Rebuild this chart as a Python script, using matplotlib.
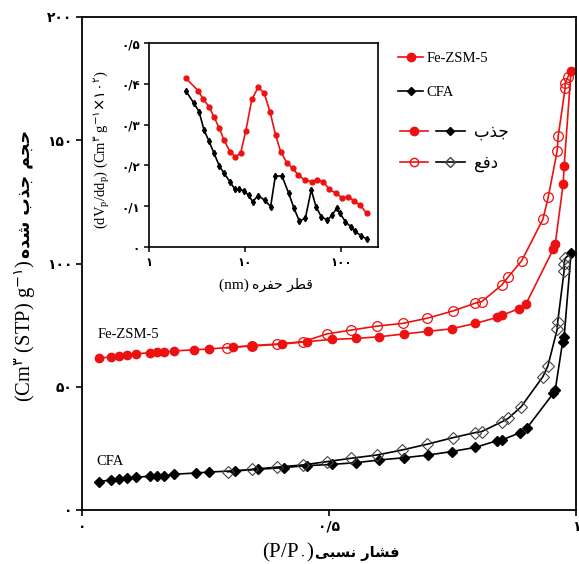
import matplotlib
matplotlib.use("Agg")
import matplotlib.pyplot as plt
import numpy as np
from matplotlib.lines import Line2D
from matplotlib.legend_handler import HandlerTuple

plt.rcParams["mathtext.fontset"] = "custom"
plt.rcParams["mathtext.rm"] = "Liberation Serif"
plt.rcParams["mathtext.it"] = "Liberation Serif:italic"
plt.rcParams["mathtext.sf"] = "DejaVu Sans"

# --- isotherm data (P/P0, adsorbed volume) ---
fe_ads_p = [0.034, 0.059, 0.075, 0.091, 0.109, 0.138, 0.152, 0.166, 0.186, 0.227,
            0.257, 0.306, 0.344, 0.405, 0.455, 0.506, 0.555, 0.602, 0.652, 0.701,
            0.748, 0.796, 0.840, 0.850, 0.885, 0.899, 0.954, 0.958, 0.974, 0.976, 0.990]
fe_ads_v = [61.5, 62.2, 62.6, 62.9, 63.4, 63.8, 64.0, 64.1, 64.5, 65.0,
            65.3, 66.1, 66.5, 67.3, 68.3, 69.2, 69.6, 70.3, 71.4, 72.5,
            73.5, 75.7, 78.1, 79.0, 81.7, 83.7, 105.8, 107.9, 132.2, 139.5, 178.2]
fe_des_p = [0.984, 0.978, 0.978, 0.964, 0.962, 0.944, 0.933, 0.890, 0.863, 0.850,
            0.809, 0.796, 0.750, 0.699, 0.649, 0.597, 0.545, 0.495, 0.448, 0.394,
            0.344, 0.293]
fe_des_v = [175.8, 173.1, 171.1, 151.7, 145.8, 127.1, 117.9, 101.1, 94.6, 91.3,
            84.5, 83.9, 80.7, 77.8, 75.7, 74.6, 73.0, 71.4, 68.3, 67.3,
            66.7, 65.8]

cfa_ads_p = [0.034, 0.059, 0.075, 0.091, 0.110, 0.137, 0.152, 0.165, 0.186, 0.230,
             0.257, 0.310, 0.357, 0.408, 0.455, 0.506, 0.555, 0.602, 0.652, 0.701,
             0.748, 0.796, 0.840, 0.850, 0.887, 0.900, 0.954, 0.958, 0.973, 0.976, 0.990]
cfa_ads_v = [11.5, 12.2, 12.6, 12.9, 13.3, 13.7, 13.8, 13.9, 14.5, 15.0,
             15.4, 15.9, 16.5, 17.2, 18.0, 18.5, 19.2, 20.3, 21.2, 22.3,
             23.7, 25.4, 28.1, 28.4, 31.4, 33.1, 47.3, 48.7, 68.3, 70.3, 104.3]
cfa_des_p = [0.978, 0.976, 0.976, 0.963, 0.962, 0.943, 0.933, 0.889, 0.863, 0.850,
             0.809, 0.796, 0.750, 0.699, 0.647, 0.597, 0.545, 0.495, 0.448, 0.395,
             0.345, 0.295]
cfa_des_v = [102.1, 99.8, 97.1, 76.4, 73.3, 58.4, 54.1, 41.9, 37.2, 35.8,
             31.8, 31.4, 29.3, 26.7, 24.3, 22.3, 21.0, 19.6, 18.3, 17.4,
             16.5, 15.5]

# --- pore size distribution (inset) ---
fe_d = [2.41, 3.26, 3.68, 4.22, 4.75, 5.40, 6.04, 6.98, 7.92, 9.02, 10.2, 11.8,
        13.7, 15.8, 18.2, 20.8, 23.5, 27.2, 31.4, 35.9, 42.2, 49.5, 56.6, 65.4,
        75.5, 88.7, 101.7, 119, 137.6, 157.7, 185]
fe_dv = [0.414, 0.383, 0.362, 0.344, 0.319, 0.291, 0.262, 0.234, 0.221, 0.230,
         0.285, 0.362, 0.391, 0.378, 0.332, 0.275, 0.234, 0.207, 0.193, 0.176,
         0.164, 0.160, 0.164, 0.160, 0.141, 0.132, 0.121, 0.123, 0.113, 0.103, 0.083]
cfa_d = [2.43, 2.94, 3.32, 3.74, 4.19, 4.75, 5.40, 6.04, 6.98, 7.87, 8.72, 9.76,
         10.9, 12.0, 13.7, 16.0, 18.5, 20.7, 24.3, 28.5, 32.4, 36.8, 42.5, 49.0,
         54.9, 62.4, 72.0, 80.6, 90.2, 97.6, 111, 126, 141, 163, 185]
cfa_dv = [0.382, 0.352, 0.332, 0.287, 0.261, 0.230, 0.199, 0.181, 0.160, 0.141,
          0.141, 0.138, 0.127, 0.111, 0.126, 0.115, 0.099, 0.174, 0.174, 0.132,
          0.095, 0.064, 0.070, 0.140, 0.099, 0.074, 0.066, 0.078, 0.095, 0.083,
          0.062, 0.050, 0.038, 0.027, 0.020]

main_xticks = [0, 0.5, 1]
main_yticks = [0, 50, 100, 150, 200]
inset_xticks = [1, 10, 100]
inset_yticks = [0, 0.1, 0.2, 0.3, 0.4, 0.5]

FA_DIGITS = "\u06f0\u06f1\u06f2\u06f3\u06f4\u06f5\u06f6\u06f7\u06f8\u06f9"
FA = str.maketrans("0123456789.", FA_DIGITS + "/")
D0, D1, D2, D3 = FA_DIGITS[0], FA_DIGITS[1], FA_DIGITS[2], FA_DIGITS[3]


def fa_num(v):
    return ("%g" % v).translate(FA)


# Persian strings, already shaped and in visual (left-to-right) order
txt_ads = "\ufe8f\ufeac\ufe9f"                       # جذب
txt_des = "\ufeca\ufed3\ufea9"                       # دفع
txt_vol = "\ufee9\ufeaa\ufeb7 \ufe8f\ufeac\ufe9f \ufee2\ufea0\ufea3"   # حجم جذب شده
txt_rel = "\ufef0\ufe92\ufeb4\ufee7 \ufead\ufe8e\ufeb8\ufed3"          # فشار نسبی
txt_pore = "\ufee9\ufeae\ufed4\ufea3 \ufeae\ufec4\ufed7"               # قطر حفره

lbl_vol = "(Cm$^{\\mathsf{" + D3 + "}}$ (STP) g$^{\\mathsf{-" + D1 + "}}$) "
lbl_rel = "(P/P$_{\\mathsf{" + D0 + "}}$) "
lbl_psd = ("(dV$_{\\mathrm{p}}$/dd$_{\\mathrm{p}}$) (Cm$^{\\mathsf{" + D3 + "}}$ g$^{\\mathsf{-" + D1
           + "}}$$\\mathsf{\\times" + D1 + D0 + "}^{\\mathsf{" + D2 + "}}$)")

RED = "#ee1111"
SERIF = "Liberation Serif"
SANS = "DejaVu Sans"

fig = plt.figure(figsize=(5.79, 5.64), dpi=100)
ax = fig.add_axes([82 / 579, 54 / 564, 494 / 579, 493 / 564])

# Fe-ZSM-5
ax.plot(fe_ads_p, fe_ads_v, "-", color=RED, lw=1.2, marker="o", ms=6, mfc=RED, mec=RED)
ax.plot(np.r_[fe_ads_p[-1], fe_des_p], np.r_[fe_ads_v[-1], fe_des_v], "-", color=RED, lw=1.2)
ax.plot(fe_des_p, fe_des_v, "o", ms=7, mfc="none", mec=RED, mew=0.9)
# CFA
ax.plot(cfa_ads_p, cfa_ads_v, "-", color="black", lw=1.2, marker="D", ms=5.5, mfc="black", mec="black")
ax.plot(np.r_[cfa_ads_p[-1], cfa_des_p], np.r_[cfa_ads_v[-1], cfa_des_v], "-", color="black", lw=1.2)
ax.plot(cfa_des_p, cfa_des_v, "D", ms=6, mfc="none", mec="#444444", mew=0.8)

ax.set_xlim(0, 1)
ax.set_ylim(0, 200)
ax.set_xticks(main_xticks, labels=[fa_num(v) for v in main_xticks])
ax.set_yticks(main_yticks, labels=[fa_num(v) for v in main_yticks])
ax.tick_params(direction="out", length=4, width=1.2, labelsize=10, pad=3)
for lab in ax.get_xticklabels() + ax.get_yticklabels():
    lab.set_family(SANS)
    lab.set_weight("bold")
for s in ax.spines.values():
    s.set_linewidth(1.3)

ax.text(0.032, 71, "Fe-ZSM-5", family=SERIF, fontsize=10.5, va="center", ha="left")
ax.text(0.030, 19.5, "CFA", family=SERIF, fontsize=10.5, va="center", ha="left")

# legends
h_fe = Line2D([], [], color=RED, lw=1.2, marker="o", ms=6)
h_cfa = Line2D([], [], color="black", lw=1.2, marker="D", ms=4)
leg1 = ax.legend([h_fe, h_cfa], ["Fe-ZSM-5", "CFA"], loc="upper left",
                 bbox_to_anchor=(0.64, 0.93), frameon=False,
                 prop={"family": SERIF, "size": 10.5}, handlelength=1.7,
                 handletextpad=0.25, labelspacing=1.45, borderpad=0, borderaxespad=0)
ax.add_artist(leg1)

h_rf = Line2D([], [], color=RED, lw=1.2, marker="o", ms=6)
h_bf = Line2D([], [], color="black", lw=1.2, marker="D", ms=4)
h_ro = Line2D([], [], color=RED, lw=1.2, marker="o", ms=6, mfc="none")
h_bo = Line2D([], [], color="black", lw=1.2, marker="D", ms=5, mfc="none", mec="#444444")
leg2 = ax.legend([(h_rf, h_bf), (h_ro, h_bo)], [txt_ads, txt_des], loc="upper left",
                 bbox_to_anchor=(0.643, 0.786), frameon=False,
                 handler_map={tuple: HandlerTuple(ndivide=None, pad=0.5)},
                 prop={"family": SANS, "size": 12}, handlelength=3.9,
                 handletextpad=0.55, labelspacing=0.8, borderpad=0, borderaxespad=0)

# axis titles (Latin + Persian pieces)
fig.text(0.043, 0.5426, txt_vol, rotation=90, ha="center", va="bottom",
         family=SANS, weight="bold", fontsize=12.5)
fig.text(0.043, 0.5426, lbl_vol, rotation=90, ha="center", va="top", family=SERIF, fontsize=14.8)
fig.text(0.544, 0.012, lbl_rel, ha="right", va="baseline", family=SERIF, fontsize=15)
fig.text(0.544, 0.012, txt_rel, ha="left", va="baseline",
         family=SANS, weight="bold", fontsize=10.5)

# inset: pore size distribution
axi = fig.add_axes([149 / 579, 317 / 564, 229 / 579, 204 / 564])
axi.plot(fe_d, fe_dv, "-", color=RED, lw=1.2, marker="o", ms=3.5)
axi.plot(cfa_d, cfa_dv, "-", color="black", lw=1.2, marker="d", ms=3.2)
axi.set_xscale("log")
axi.set_xlim(1, 243)
axi.set_ylim(0, 0.5)
axi.set_xticks(inset_xticks, labels=[fa_num(v) for v in inset_xticks])
axi.set_yticks(inset_yticks, labels=[fa_num(v) for v in inset_yticks])
axi.minorticks_off()
axi.tick_params(direction="out", length=3.5, width=1.1, labelsize=8.5, pad=3)
for lab in axi.get_xticklabels() + axi.get_yticklabels():
    lab.set_family(SANS)
    lab.set_weight("bold")
for s in axi.spines.values():
    s.set_linewidth(1.2)

fig.text(102 / 579, 0.735, lbl_psd, rotation=90, ha="center", va="center",
         family=SERIF, fontsize=10.5)
fig.text(0.436, 0.488, "(nm) ", ha="right", va="baseline", family=SERIF, fontsize=11)
fig.text(0.436, 0.488, txt_pore, ha="left", va="baseline", family=SANS, fontsize=10)

fig.savefig("out.png", dpi=100)
